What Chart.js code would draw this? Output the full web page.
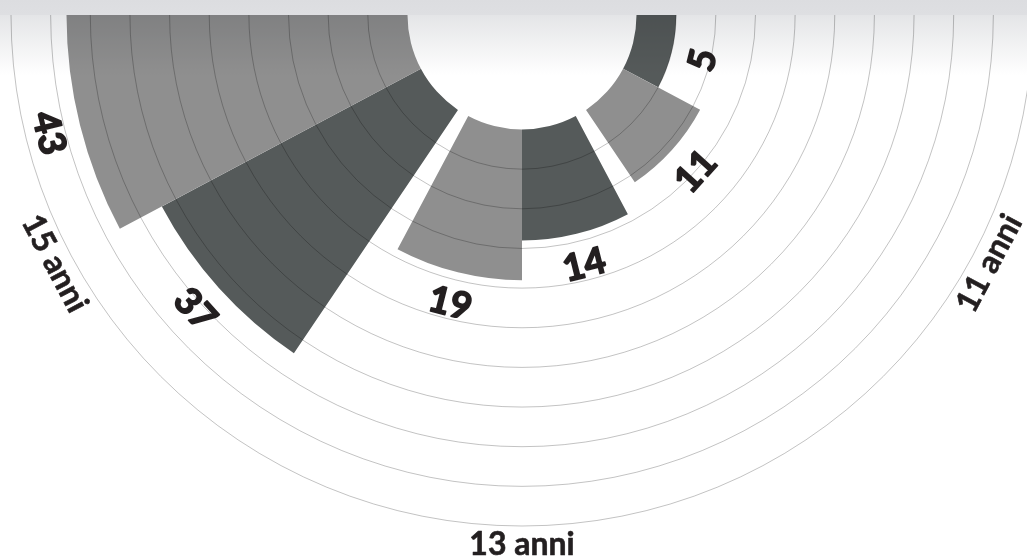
<!DOCTYPE html>
<html>
<head>
<meta charset="utf-8">
<script src="https://cdn.jsdelivr.net/npm/chart.js@4.4.0/dist/chart.umd.min.js"></script>
<style>
    html, body { margin: 0; padding: 0; background: #fff; }
    body { width: 1027px; height: 557px; position: relative; overflow: hidden; }
    #contenitore { position: absolute; left: 0; top: 15px; width: 1027px; height: 542px; overflow: hidden; }
    #grafico { position: absolute; left: -28px; top: -550px; }
    #ombra {
        position: absolute; left: 0; top: 0; width: 1027px; height: 90px;
        pointer-events: none; mix-blend-mode: multiply;
        background: linear-gradient(to bottom, #dcdde0 0px, #dedfe2 15px, #e4e5e7 15px, #ffffff 75px);
    }
</style>
</head>
<body>
<div id="contenitore"><canvas id="grafico" width="1100" height="1100"></canvas></div>
<div id="ombra"></div>
<script>
const categorie = ["11 anni", "13 anni", "15 anni"];
const serieScura = [5, 14, 37];
const serieChiara = [11, 19, 43];
const scalaMax = 50;
const passo = 5;

const SCURO = "#555a5a";
const CHIARO = "#8f8f8f";
const TESTO = "#231f20";
const ANGOLO_BARRA = 28;
const ANGOLO_VUOTO = 6;

// dati per il polar area: due barre per categoria, uno spazio vuoto tra i gruppi
let valori = [];
let colori = [];
let angoli = [];
let etichetteDati = [];

categorie.forEach((cat, i) => {
    valori.push(serieScura[i], serieChiara[i]);
    colori.push(SCURO, CHIARO);
    angoli.push(ANGOLO_BARRA, ANGOLO_BARRA);
    etichetteDati.push(cat, cat);

    if (i < categorie.length - 1) {
        valori.push(0);
        colori.push("rgba(0,0,0,0)");
        angoli.push(ANGOLO_VUOTO);
        etichetteDati.push("");
    }
});

// il valore 0 parte dal bordo del foro centrale
const buco = {
    id: "buco",
    beforeDatasetsDraw(chart) {
        const r0 = chart.scales.r.getDistanceFromCenterForValue(0);

        chart.getDatasetMeta(0).data.forEach((arco) => {
            arco.innerRadius = r0;
        });
    },
};

const scritte = {
    id: "scritte",
    afterDraw(chart) {
        const ctx = chart.ctx;
        const scala = chart.scales.r;
        const cx = scala.xCenter;
        const cy = scala.yCenter;
        const archi = chart.getDatasetMeta(0).data;

        function scrivi(testo, ang, raggio, dim, spessore) {
            ctx.save();
            ctx.font = "bold " + dim + "px Lato, 'DejaVu Sans', sans-serif";
            ctx.fillStyle = TESTO;
            ctx.strokeStyle = TESTO;
            ctx.lineWidth = spessore;
            ctx.lineJoin = "round";
            ctx.textAlign = "center";
            ctx.textBaseline = "alphabetic";
            ctx.translate(cx + raggio * Math.cos(ang), cy + raggio * Math.sin(ang));
            ctx.rotate(ang - Math.PI / 2);
            ctx.fillText(testo, 0, dim * 0.36);
            if (spessore > 0) ctx.strokeText(testo, 0, dim * 0.36);
            ctx.restore();
        }

        let k = 0;

        categorie.forEach((cat, i) => {
            const a = archi[k];
            const b = archi[k + 1];

            [a, b].forEach((arco, j) => {
                const v = j === 0 ? serieScura[i] : serieChiara[i];
                const mezzo = (arco.startAngle + arco.endAngle) / 2;
                scrivi(String(v), mezzo, scala.getDistanceFromCenterForValue(v) + 31, 37, 1.6);
            });

            const mezzoGruppo = (a.startAngle + b.endAngle) / 2;
            scrivi(cat, mezzoGruppo, scala.drawingArea + 17, 32, 0.6);

            k += 3;
        });
    },
};

new Chart(document.getElementById("grafico"), {
    type: "polarArea",
    data: {
        labels: etichetteDati,
        datasets: [
            {
                data: valori,
                backgroundColor: colori,
                borderWidth: 0,
                angle: (c) => angoli[c.dataIndex],
            },
        ],
    },
    options: {
        responsive: false,
        animation: false,
        events: [],
        layout: { padding: 39 },
        plugins: {
            legend: { display: false },
            tooltip: { enabled: false },
        },
        scales: {
            r: {
                min: -14.44, // spazio del foro centrale
                max: scalaMax,
                startAngle: 90,
                ticks: { display: false, stepSize: passo },
                grid: {
                    z: 1,
                    lineWidth: 1,
                    color: (c) => (c.tick && c.tick.value > 0 ? "rgba(0,0,0,0.24)" : "rgba(0,0,0,0)"),
                },
                angleLines: { display: false },
                pointLabels: { display: false },
            },
        },
    },
    plugins: [buco, scritte],
});
</script>
</body>
</html>
